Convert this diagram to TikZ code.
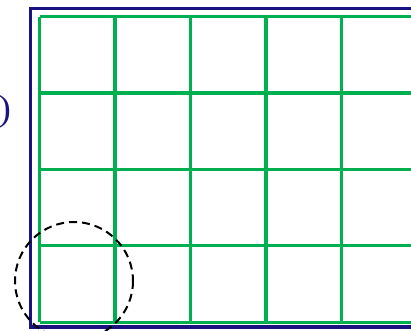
\documentclass[tikz,border=0pt]{standalone}
\usepackage{fontspec}
\setmainfont{Liberation Serif}
\usepackage{tikz}
\usetikzlibrary{positioning}
\definecolor{inknavy}{HTML}{1B1282}
\definecolor{inkgreen}{HTML}{00B050}
\tikzset{frame/.style={inknavy,line width=3.2pt},cell/.style={inkgreen,line width=3.2pt},probe/.style={black,line width=2pt,dash pattern=on 8pt off 5pt},every picture/.style={line cap=butt}}

\begin{document}
\begin{tikzpicture}[x=1pt,y=-1pt]
\useasboundingbox (0,0) rectangle (411,330);
\clip (0,0) rectangle (411,330);
\fill[white] (0,0) rectangle (411,330);
\draw[frame] (30.5,8.5) rectangle (440,327);
\foreach \i in {0,...,5}{\draw[cell] (39.5+75.5*\i,16.5)--(39.5+75.5*\i,322);}
\foreach \j in {0,...,4}{\draw[cell] (39.5,16.5+76.4*\j)--(440,16.5+76.4*\j);}
\draw[probe] (74,281) circle (59);
\node[anchor=east,inner sep=0pt,text=inknavy,font=\fontsize{36}{40}\selectfont] (paren) at (11,112) {)};
\end{tikzpicture}
\end{document}
